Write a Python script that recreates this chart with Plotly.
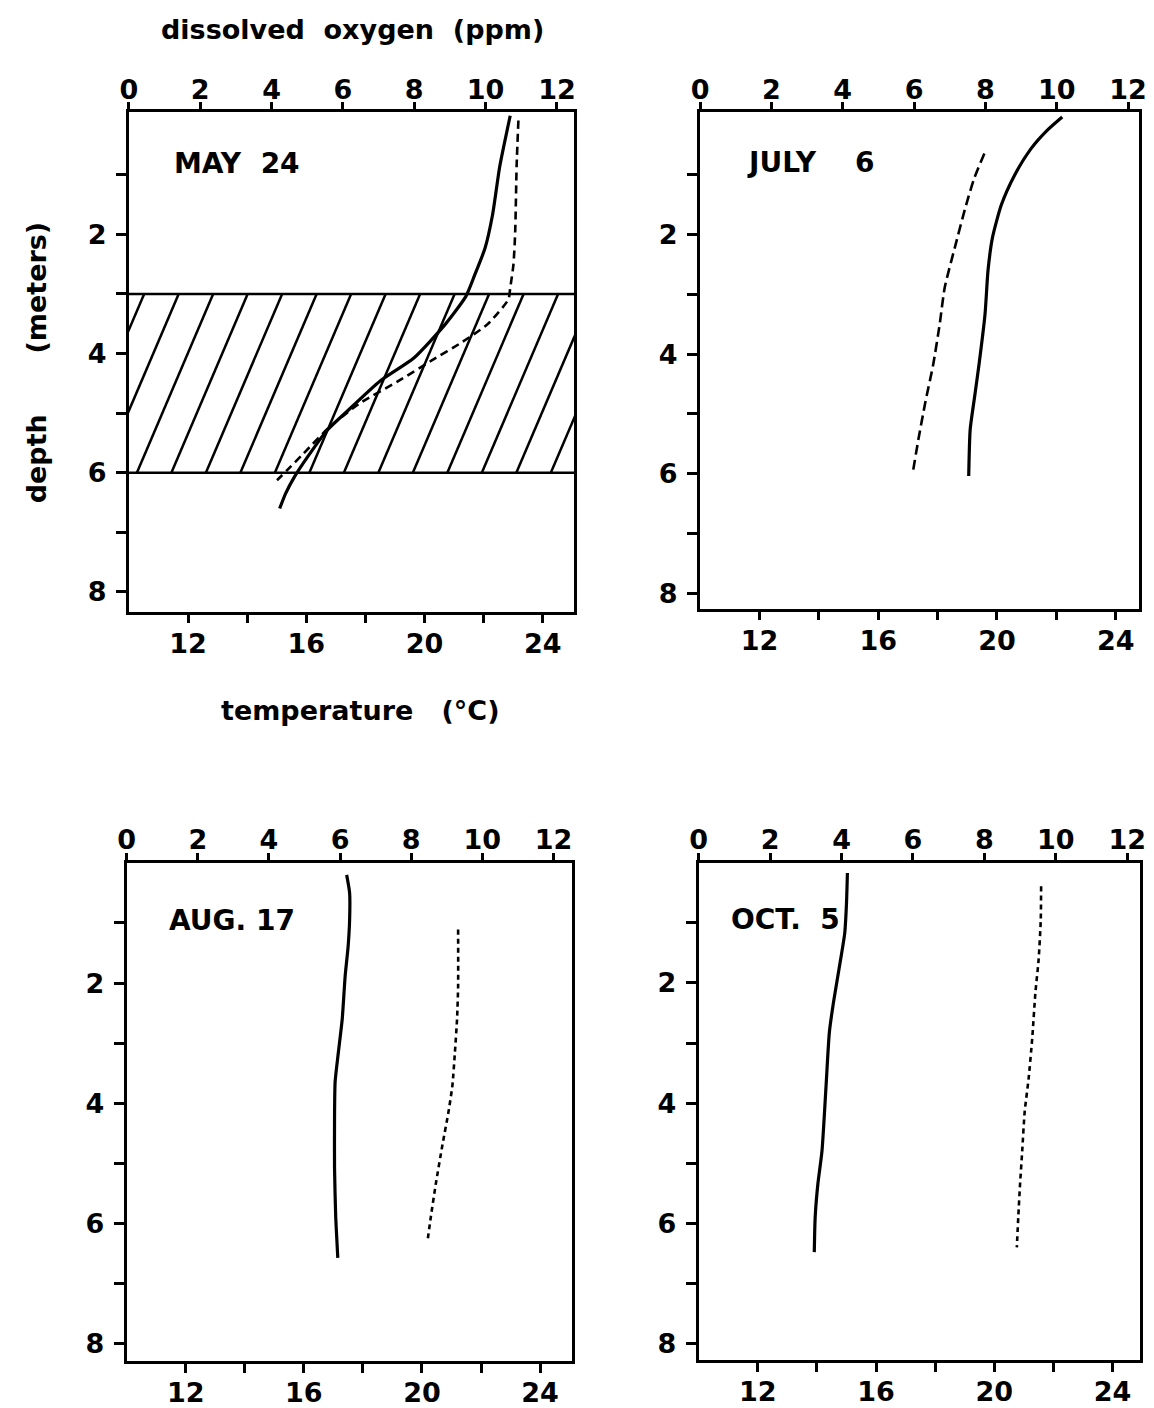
import plotly.graph_objects as go

W, H = 1154, 1408

# ---------------- data ----------------
# solid line = temperature (deg C, bottom axis); dashed line = dissolved oxygen (ppm, top axis)
may_temp_depth = [0.01, 0.85, 1.68, 2.23, 2.68, 3.04, 3.51, 4.07, 4.46, 4.96, 5.29, 5.73, 6.07, 6.35, 6.6]
may_temp = [22.9, 22.55, 22.3, 22.05, 21.7, 21.4, 20.7, 19.65, 18.5, 17.4, 16.7, 16.05, 15.6, 15.3, 15.1]
may_do_depth = [0.09, 0.85, 1.96, 2.51, 2.9, 3.09, 3.51, 3.82, 4.12, 4.46, 4.84, 5.23, 5.68, 5.96, 6.18]
may_do = [10.92, 10.87, 10.83, 10.78, 10.69, 10.64, 10.05, 9.31, 8.48, 7.56, 6.46, 5.63, 4.89, 4.43, 4.06]
may_thermocline = [3.0, 6.0]

jul_temp_depth = [0.03, 0.25, 0.56, 1.0, 1.5, 2.05, 2.6, 3.33, 4.16, 4.71, 5.26, 6.04]
jul_temp = [22.2, 21.7, 21.15, 20.6, 20.15, 19.85, 19.7, 19.6, 19.4, 19.25, 19.1, 19.05]
jul_do_depth = [0.64, 1.05, 1.5, 2.22, 2.88, 3.49, 4.16, 4.82, 5.43, 5.96]
jul_do = [7.97, 7.69, 7.46, 7.14, 6.86, 6.72, 6.54, 6.31, 6.12, 5.97]

aug_temp_depth = [0.2, 0.5, 0.95, 1.39, 1.88, 2.6, 3.15, 3.64, 4.25, 5.08, 5.9, 6.29, 6.57]
aug_temp = [17.45, 17.55, 17.55, 17.5, 17.4, 17.3, 17.17, 17.06, 17.04, 17.04, 17.08, 17.12, 17.15]
aug_do_depth = [1.11, 2.05, 2.6, 3.15, 3.7, 4.14, 4.69, 5.35, 5.9, 6.29]
aug_do = [9.32, 9.32, 9.29, 9.23, 9.16, 9.05, 8.88, 8.69, 8.55, 8.46]

oct_temp_depth = [0.17, 0.67, 1.17, 1.61, 2.32, 2.82, 3.7, 4.8, 5.35, 5.9, 6.48]
oct_temp = [15.03, 15.0, 14.94, 14.8, 14.56, 14.42, 14.31, 14.17, 14.03, 13.94, 13.91]
oct_do_depth = [0.39, 0.95, 1.61, 2.16, 2.93, 3.59, 4.14, 4.8, 5.35, 5.9, 6.4]
oct_do = [9.59, 9.58, 9.52, 9.43, 9.34, 9.24, 9.13, 9.06, 9.0, 8.95, 8.91]

panel_labels = ["MAY  24", "JULY    6", "AUG. 17", "OCT.  5"]

temp_ticks = [12, 14, 16, 18, 20, 22, 24]
temp_ticktext = ["12", "", "16", "", "20", "", "24"]
do_ticks = [0, 2, 4, 6, 8, 10, 12]
do_ticktext = ["0", "2", "4", "6", "8", "10", "12"]
depth_ticks = [1, 2, 3, 4, 5, 6, 7, 8]
depth_ticktext = ["", "2", "", "4", "", "6", "", "8"]

# ---------------- layout geometry (pixels) ----------------
def px(x):
    return x / W

def py(y):
    return 1 - y / H

panels = [
    dict(temp_depth=may_temp_depth, temp=may_temp, do_depth=may_do_depth, do=may_do,
         xpx=(121.7, 573.5), ypx=(113, 616), trange=25.06, dorange=12.48, yrange=(8.33, -0.05),
         dash="8px,5px", label_xy=(165, 165)),
    dict(temp_depth=jul_temp_depth, temp=jul_temp, do_depth=jul_do_depth, do=jul_do,
         xpx=(701.4, 1146.7), ypx=(113, 613), trange=24.78, dorange=12.3, yrange=(8.26, -0.05),
         dash="10px,5px", label_xy=(747, 164)),
    dict(temp_depth=aug_temp_depth, temp=aug_temp, do_depth=aug_do_depth, do=aug_do,
         xpx=(119.4, 571.7), ypx=(869, 1371), trange=25.09, dorange=12.53, yrange=(8.29, 0.0),
         dash="5px,4px", label_xy=(160, 927)),
    dict(temp_depth=oct_temp_depth, temp=oct_temp, do_depth=oct_do_depth, do=oct_do,
         xpx=(700.0, 1148.3), ypx=(869, 1370), trange=24.94, dorange=12.37, yrange=(8.28, 0.0),
         dash="5px,4px", label_xy=(731, 926)),
]

FONT = "DejaVu Sans"
tickfont = dict(family=FONT, size=27, color="black", weight="bold")

fig = go.Figure()
layout = dict(
    width=W, height=H, margin=dict(l=0, r=0, t=0, b=0),
    paper_bgcolor="white", plot_bgcolor="white", showlegend=False,
    annotations=[], shapes=[],
)

for i, p in enumerate(panels):
    xb = 2 * i + 1
    xt = 2 * i + 2
    yn = i + 1
    xb_name = "x" if xb == 1 else f"x{xb}"
    xt_name = f"x{xt}"
    y_name = "y" if yn == 1 else f"y{yn}"
    xb_key = "xaxis" if xb == 1 else f"xaxis{xb}"
    xt_key = f"xaxis{xt}"
    y_key = "yaxis" if yn == 1 else f"yaxis{yn}"

    layout[xb_key] = dict(
        domain=[px(p["xpx"][0]), px(p["xpx"][1])], range=[10, p["trange"]], anchor=y_name, side="bottom",
        showline=True, linewidth=2.5, linecolor="black", ticks="outside", ticklen=9, tickwidth=2.5,
        tickcolor="black", tickvals=temp_ticks, ticktext=temp_ticktext, tickfont=tickfont,
        showgrid=False, zeroline=False, ticklabelstandoff=-3,
    )
    layout[xt_key] = dict(
        overlaying=xb_name, side="top", anchor=y_name, range=[0, p["dorange"]],
        showline=True, linewidth=2.5, linecolor="black", ticks="outside", ticklen=7, tickwidth=2.5,
        tickcolor="black", tickvals=do_ticks, ticktext=do_ticktext, tickfont=tickfont,
        showgrid=False, zeroline=False, ticklabelstandoff=-7,
    )
    layout[y_key] = dict(
        domain=[py(p["ypx"][1]), py(p["ypx"][0])], range=list(p["yrange"]), anchor=xb_name,
        showline=True, mirror=True, linewidth=3, linecolor="black", ticks="outside", ticklen=10,
        tickwidth=2.5, tickcolor="black", tickvals=depth_ticks, ticktext=depth_ticktext,
        tickfont=tickfont, showgrid=False, zeroline=False, ticklabelstandoff=4,
    )

    if i == 0:
        # hatched thermocline band
        top, bot = may_thermocline
        hx, hy = [], []
        spacing, slant, start = 1.167, 2.58, 10.27
        for k in range(-4, 15):
            xb0 = start + spacing * k
            hx += [xb0, xb0 + slant, None]
            hy += [bot, top, None]
        fig.add_trace(go.Scatter(x=hx, y=hy, mode="lines", xaxis=xb_name, yaxis=y_name,
                                 line=dict(color="black", width=2.5), hoverinfo="skip"))
        for d in (top, bot):
            layout["shapes"].append(dict(type="line", xref=f"{xb_name} domain", yref=y_name,
                                         x0=0, x1=1, y0=d, y1=d, line=dict(color="black", width=2.5)))

    fig.add_trace(go.Scatter(x=p["temp"], y=p["temp_depth"], mode="lines", xaxis=xb_name, yaxis=y_name,
                             line=dict(color="black", width=3.2, shape="spline", smoothing=0.6),
                             name="temperature"))
    fig.add_trace(go.Scatter(x=p["do"], y=p["do_depth"], mode="lines", xaxis=xt_name, yaxis=y_name,
                             line=dict(color="black", width=2.6, dash=p["dash"], shape="spline", smoothing=0.6),
                             name="dissolved oxygen"))

    lx, ly = p["label_xy"]
    layout["annotations"].append(dict(
        text=panel_labels[i], xref="paper", yref="paper", x=px(lx), y=py(ly),
        xanchor="left", yanchor="middle", showarrow=False,
        font=dict(family=FONT, size=28, color="black", weight="bold")))

titlefont = dict(family=FONT, size=27, color="black", weight="bold")
layout["annotations"] += [
    dict(text="dissolved  oxygen  (ppm)", xref="paper", yref="paper", x=px(349), y=py(30),
         xanchor="center", yanchor="middle", showarrow=False, font=titlefont),
    dict(text="temperature   (°C)", xref="paper", yref="paper", x=px(356), y=py(716),
         xanchor="center", yanchor="middle", showarrow=False, font=titlefont),
    dict(text="depth", xref="paper", yref="paper", x=px(28), y=py(462),
         xanchor="center", yanchor="middle", showarrow=False, textangle=-90, font=titlefont),
    dict(text="(meters)", xref="paper", yref="paper", x=px(28), y=py(290),
         xanchor="center", yanchor="middle", showarrow=False, textangle=-90, font=titlefont),
]

fig.update_layout(**layout)
fig.write_html("out.html")
